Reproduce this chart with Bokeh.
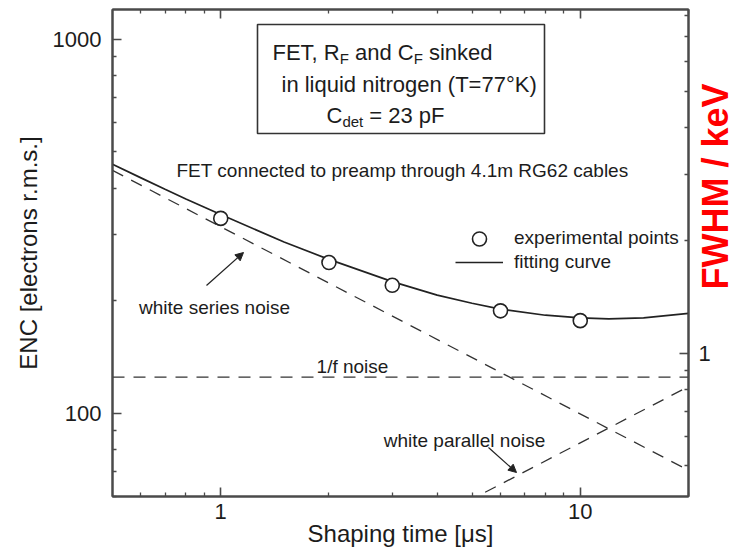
import numpy as np
from bokeh.plotting import figure
from bokeh.layouts import row
from bokeh.core.properties import value
from bokeh.models import (Range1d, LogScale, LogAxis, FixedTicker, PrintfTickFormatter,
                          Label, BoxAnnotation, Arrow, NormalHead, Legend, LegendItem)
from bokeh.embed import file_html
from bokeh.resources import INLINE

# ---------------- data ----------------
shaping_time_us = [1, 2, 3, 6, 10]
enc_measured = [332, 253, 220, 188, 177]

fit_time_us = [0.5, 0.6, 0.7, 0.8, 1.0, 1.5, 2, 3, 4, 5, 6, 8, 10, 12, 15, 20]
fit_enc = [463, 426, 397, 374, 340, 287, 258, 225, 207, 197, 190, 183, 180, 179, 180, 185]

white_series_time_us = [0.5, 20]
white_series_enc = [446, 70.5]
flicker_time_us = [0.5, 20]
flicker_enc = [125, 125]
white_parallel_time_us = [0.5, 20]
white_parallel_enc = [18.7, 118]

x_range_us = (0.5, 20)
y_range_enc = (60, 1200)
electrons_per_kev_fwhm = 145

x_major_ticks = [1, 10]
x_minor_ticks = [0.6, 0.7, 0.8, 0.9, 2, 3, 4, 5, 6, 7, 8, 9, 20]
y_major_ticks = [100, 1000]
y_minor_ticks = [60, 70, 80, 90, 200, 300, 400, 500, 600, 700, 800, 900]
fwhm_major_ticks = [1]
fwhm_minor_ticks = [0.5, 0.6, 0.7, 0.8, 0.9, 2, 3, 4, 5, 6, 7, 8]

# ---------------- layout ----------------
W, H = 690, 553          # main figure; a narrow side figure fills the rest (47 px)
W2 = 737 - W
FL, FR, FT, FB = 112, 688, 9, 496
FONT = "Liberation Sans"
INK = "#1c1c1c"
AXC = "#4a4a4a"


def dx(px):
    lo, hi = np.log10(x_range_us[0]), np.log10(x_range_us[1])
    return float(10 ** (lo + (px - FL) / (FR - FL) * (hi - lo)))


def dy(py):
    lo, hi = np.log10(y_range_enc[0]), np.log10(y_range_enc[1])
    return float(10 ** (lo + (FB - py) / (FB - FT) * (hi - lo)))


ARIAL = {' ': 278, ',': 278, '.': 278, '(': 333, ')': 333, '=': 584, '°': 400,
         '/': 278, '[': 278, ']': 278,
         'A': 667, 'C': 722, 'E': 667, 'F': 611, 'G': 778, 'K': 667, 'R': 722, 'T': 611,
         'a': 556, 'b': 556, 'c': 500, 'd': 556, 'e': 556, 'f': 278, 'g': 556, 'h': 556,
         'i': 222, 'k': 500, 'l': 222, 'm': 833, 'n': 556, 'o': 556, 'p': 556, 'q': 556,
         'r': 333, 's': 500, 't': 278, 'u': 556, 'v': 500, 'w': 722, 'y': 500}
KERN = {("T", ","): -111}


def tw(s, fs):
    w = sum(ARIAL.get(ch, 556) for ch in s)
    w += sum(KERN.get((a, b), 0) for a, b in zip(s, s[1:]))
    return w * fs / 1000.0


p = figure(width=W, height=H, x_axis_type="log", y_axis_type="log",
           x_range=Range1d(*x_range_us), y_range=Range1d(*y_range_enc),
           output_backend="svg", toolbar_location=None,
           min_border_left=FL, min_border_right=W - FR,
           min_border_top=FT, min_border_bottom=H - FB)
p.xgrid.visible = False
p.ygrid.visible = False
p.background_fill_color = "white"
p.border_fill_color = "white"
p.outline_line_color = AXC
p.outline_line_width = 2

fwhm_range = (y_range_enc[0] / electrons_per_kev_fwhm, y_range_enc[1] / electrons_per_kev_fwhm)
p.extra_y_ranges = {"fwhm": Range1d(*fwhm_range)}
p.extra_y_scales = {"fwhm": LogScale()}


def style_axis(ax, standoff):
    ax.axis_line_color = AXC
    ax.axis_line_width = 2
    ax.major_tick_line_color = AXC
    ax.major_tick_line_width = 1.6
    ax.minor_tick_line_color = AXC
    ax.minor_tick_line_width = 1.3
    ax.major_tick_in = 9
    ax.major_tick_out = 0
    ax.minor_tick_in = 4
    ax.minor_tick_out = 0
    ax.major_label_text_font = FONT
    ax.major_label_text_font_size = "22px"
    ax.major_label_text_color = INK
    ax.major_label_standoff = standoff
    ax.axis_label_text_font = FONT
    ax.axis_label_text_font_style = "normal"
    ax.axis_label_text_color = INK


xb = p.xaxis[0]
xb.ticker = FixedTicker(ticks=x_major_ticks, minor_ticks=x_minor_ticks)
xb.formatter = PrintfTickFormatter(format="%d")
style_axis(xb, 7)
xb.axis_label = "Shaping time [μs]"
xb.axis_label_text_font_size = "24px"
xb.axis_label_standoff = -2

yl = p.yaxis[0]
yl.ticker = FixedTicker(ticks=y_major_ticks, minor_ticks=y_minor_ticks)
yl.formatter = PrintfTickFormatter(format="%d")
style_axis(yl, 11)
yl.axis_label = "ENC [electrons r.m.s.]"
yl.axis_label_text_font_size = "24px"
yl.axis_label_standoff = 8

xt = LogAxis(ticker=FixedTicker(ticks=x_major_ticks, minor_ticks=x_minor_ticks))
style_axis(xt, 0)
xt.major_label_text_font_size = "1px"
xt.major_label_text_alpha = 0
p.add_layout(xt, "above")

# right (FWHM) axis: ticks on the main figure, its label "1" and title in the side figure
yr = LogAxis(y_range_name="fwhm",
             ticker=FixedTicker(ticks=fwhm_major_ticks, minor_ticks=fwhm_minor_ticks))
style_axis(yr, 0)
yr.major_label_text_font_size = "1px"
yr.major_label_text_alpha = 0
p.add_layout(yr, "right")

# ---------------- curves ----------------
dash = "12 9"
p.line(white_series_time_us, white_series_enc, line_color="#333333", line_width=1.3, line_dash=dash)
p.line(flicker_time_us, flicker_enc, line_color="#333333", line_width=1.3, line_dash=dash)
p.line(white_parallel_time_us, white_parallel_enc, line_color="#333333", line_width=1.3, line_dash=dash)
r_fit = p.line(fit_time_us, fit_enc, line_color="#222222", line_width=1.7)
r_pts = p.scatter(shaping_time_us, enc_measured, marker="circle", size=14,
                  fill_color="white", line_color="#222222", line_width=1.6)

# ---------------- legend ----------------
common = dict(glyph_width=48, label_standoff=11, padding=0, spacing=0, margin=0,
              border_line_alpha=0, background_fill_alpha=0,
              label_text_font=FONT, label_text_font_size="19px", label_text_color=INK)
leg1 = Legend(items=[LegendItem(label="experimental points", renderers=[r_pts])],
              location=(455 - FL, FB - 255.5), glyph_height=35, label_height=35, **common)
leg2 = Legend(items=[LegendItem(label="fitting curve", renderers=[r_fit])],
              location=(455 - FL, FB - 274), glyph_height=24, label_height=24, **common)
p.add_layout(leg1)
p.add_layout(leg2)

# ---------------- annotations ----------------
p.add_layout(BoxAnnotation(left=dx(257), right=dx(544), top=dy(24), bottom=dy(133),
                           fill_alpha=0, line_color="#333333", line_alpha=1, line_width=1.6))


def rich(pieces, x0, base, fs):
    x = x0
    for txt, sub in pieces:
        f = fs * 0.68 if sub else fs
        yb = base + (fs * 0.28 if sub else 0)
        lead = len(txt) - len(txt.lstrip(" "))
        shown = txt.strip(" ")
        p.add_layout(Label(x=dx(x + tw(" " * lead, f)), y=dy(yb), text=shown, text_font=FONT,
                           text_font_size=f"{f:.1f}px", text_color=INK,
                           text_align="left", text_baseline="alphabetic"))
        x += tw(txt, f)


BOXFS = 22
rich([("FET, R", 0), ("F", 1), (" and C", 0), ("F", 1), (" sinked", 0)], 272, 52, BOXFS)
rich([("in liquid nitrogen (T=77°K)", 0)], 281, 84, BOXFS)
rich([("C", 0), ("det", 1), (" = 23 pF", 0)], 326, 115, BOXFS)


def label(txt, x, y, fs=19, align="center"):
    p.add_layout(Label(x=dx(x), y=dy(y), text=txt, text_font=FONT,
                       text_font_size=f"{fs}px", text_color=INK,
                       text_align=align, text_baseline="alphabetic"))


label("FET connected to preamp through 4.1m RG62 cables", 402, 170)
label("white series noise", 214, 307)
label("1/f noise", 352, 366)
label("white parallel noise", 464, 440)

arrow_kw = dict(line_color="#222222", line_width=1.2,
                end=NormalHead(size=8, fill_color="#222222", line_color="#222222"))
p.add_layout(Arrow(x_start=dx(206), y_start=dy(285), x_end=dx(243), y_end=dy(252), **arrow_kw))
p.add_layout(Arrow(x_start=dx(488), y_start=dy(447), x_end=dx(516), y_end=dy(472), **arrow_kw))

# ---------------- side figure: FWHM tick label and title ----------------
p2 = figure(width=W2, height=H, y_axis_type="log",
            x_range=Range1d(0, W2), y_range=Range1d(*fwhm_range),
            x_axis_location=None, y_axis_location=None,
            min_border_left=0, min_border_right=0, min_border_top=FT, min_border_bottom=H - FB,
            output_backend="svg", toolbar_location=None)
p2.grid.visible = False
p2.outline_line_color = None
p2.background_fill_color = "white"
p2.border_fill_color = "white"
p2.text(x=[698 - W] * len(fwhm_major_ticks), y=fwhm_major_ticks,
        text=[f"{t:g}" for t in fwhm_major_ticks],
        text_font=value(FONT), text_font_size=value("22px"), text_color=INK,
        text_align="left", text_baseline="middle")
p2.text(x=[715 - W], y=[dy(186) / electrons_per_kev_fwhm], text=["FWHM / keV"],
        angle=np.pi / 2, text_font=value(FONT), text_font_size=value("36px"),
        text_font_style="bold", text_color="#ff0000",
        text_align="center", text_baseline="middle")

layout = row(p, p2, spacing=0)
open("out.html", "w").write(file_html(layout, INLINE))
